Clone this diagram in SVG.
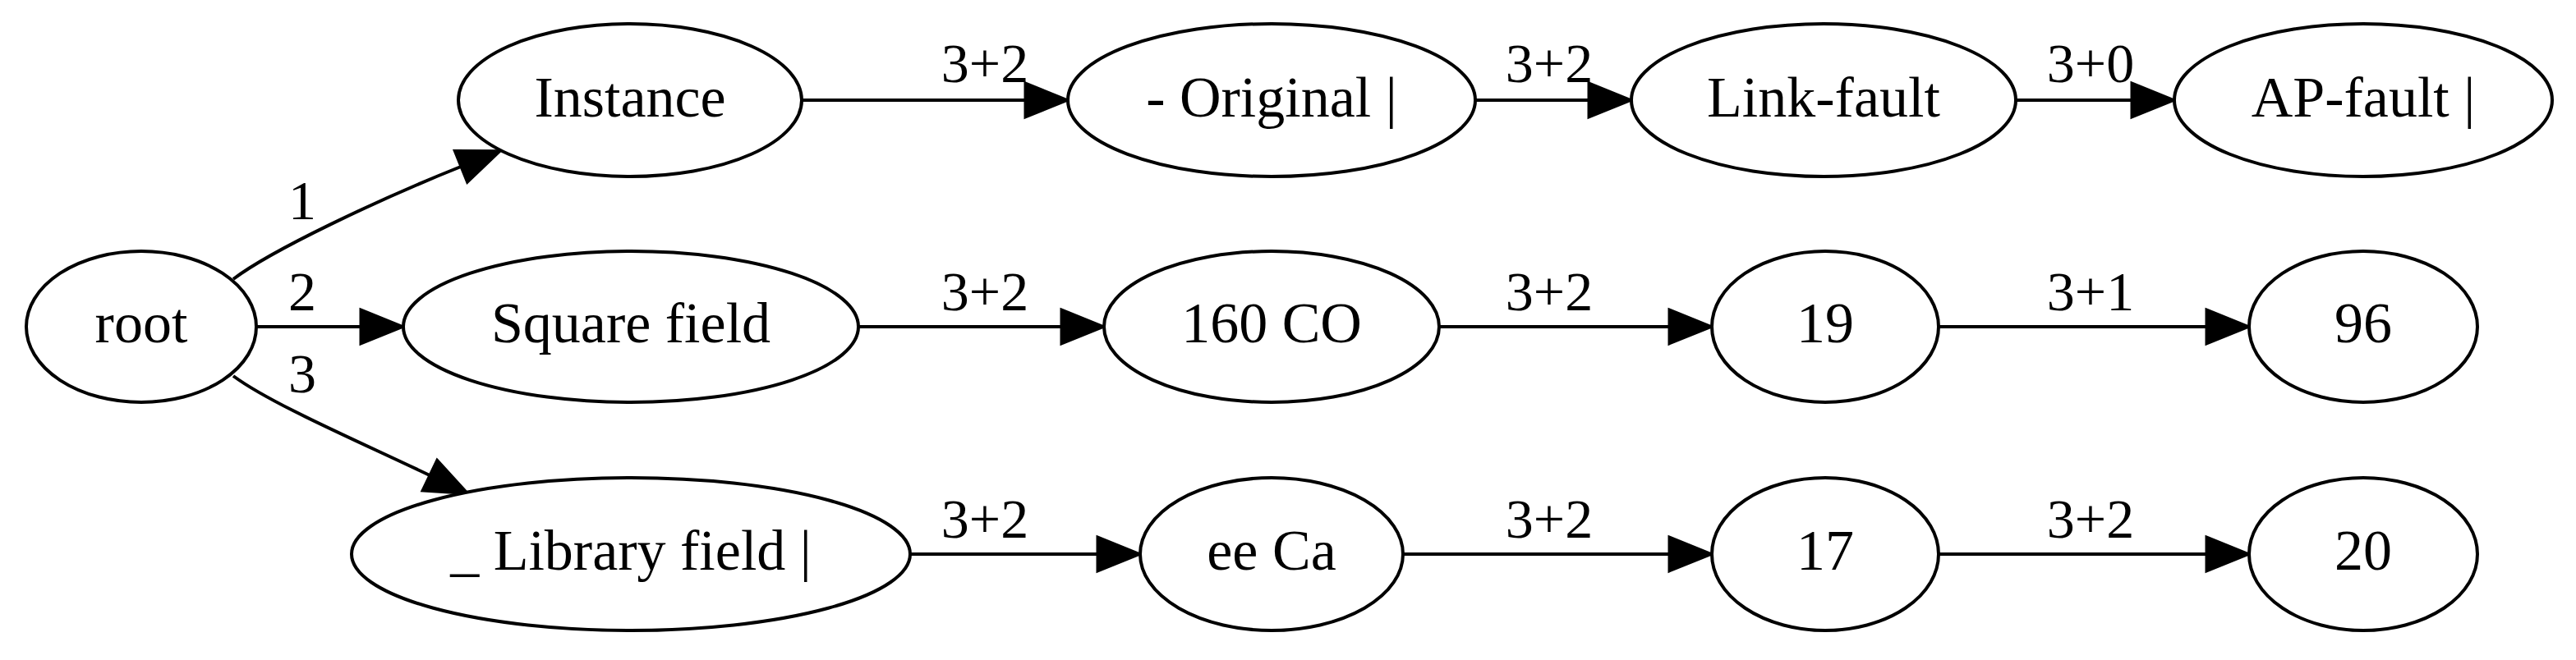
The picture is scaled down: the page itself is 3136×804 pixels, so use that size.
<svg xmlns="http://www.w3.org/2000/svg" width="3136" height="804" viewBox="0 0 3136 804">
<defs>
<marker id="arrow" markerUnits="userSpaceOnUse" markerWidth="60" markerHeight="50" viewBox="0 -25 60 50" refX="0" refY="0" orient="auto" overflow="visible">
<polygon points="0,-21 52,0 0,21" fill="#000" stroke="#000" stroke-width="3"/>
</marker>
</defs>
<style>
.node ellipse{fill:#fff;stroke:#000;stroke-width:4}
.node text{font-family:"Liberation Serif","Times New Roman",serif;font-size:70px;text-anchor:middle;fill:#000}
.edges path{fill:none;stroke:#000;stroke-width:4;marker-end:url(#arrow)}
.edges text{font-family:"Liberation Serif","Times New Roman",serif;font-size:68px;text-anchor:middle;fill:#000}
</style>
<rect width="3136" height="804" fill="#fff"/>
<g id="edges" class="edges">
<path d="M284,340 C330,305 461,243 561,203"/>
<text x="368" y="267">1</text>
<path d="M312,398 L439,398"/>
<text x="368" y="378">2</text>
<path d="M284,458 C330,492 433,536 523,579"/>
<text x="368" y="478">3</text>
<path d="M976,122 L1248,122"/>
<text x="1199" y="100">3+2</text>
<path d="M1796,122 L1934,122"/>
<text x="1886" y="100">3+2</text>
<path d="M2454,122 L2595,122"/>
<text x="2545" y="100">3+0</text>
<path d="M1045,398 L1292,398"/>
<text x="1199" y="378">3+2</text>
<path d="M1752,398 L2032,398"/>
<text x="1886" y="378">3+2</text>
<path d="M2360,398 L2686,398"/>
<text x="2545" y="378">3+1</text>
<path d="M1108,675 L1336,675"/>
<text x="1199" y="655">3+2</text>
<path d="M1708,675 L2032,675"/>
<text x="1886" y="655">3+2</text>
<path d="M2360,675 L2686,675"/>
<text x="2545" y="655">3+2</text>
</g>
<g id="root" class="node"><ellipse cx="172" cy="398" rx="140" ry="92"/><text x="172" y="417">root</text></g>
<g id="instance" class="node"><ellipse cx="767" cy="122" rx="209" ry="93"/><text x="767" y="142">Instance</text></g>
<g id="square_field" class="node"><ellipse cx="768" cy="398" rx="277" ry="92"/><text x="768" y="417">Square field</text></g>
<g id="library_field" class="node"><ellipse cx="768" cy="675" rx="340" ry="93"/><text x="768" y="694">_ Library field |</text></g>
<g id="original" class="node"><ellipse cx="1548" cy="122" rx="248" ry="93"/><text x="1548" y="142">- Original |</text></g>
<g id="n160co" class="node"><ellipse cx="1548" cy="398" rx="204" ry="92"/><text x="1548" y="417">160 CO</text></g>
<g id="eeca" class="node"><ellipse cx="1548" cy="675" rx="160" ry="93"/><text x="1548" y="694">ee Ca</text></g>
<g id="link_fault" class="node"><ellipse cx="2220" cy="122" rx="234" ry="93"/><text x="2220" y="142">Link-fault</text></g>
<g id="n19" class="node"><ellipse cx="2222" cy="398" rx="138" ry="92"/><text x="2222" y="417">19</text></g>
<g id="n17" class="node"><ellipse cx="2222" cy="675" rx="138" ry="93"/><text x="2222" y="694">17</text></g>
<g id="ap_fault" class="node"><ellipse cx="2877" cy="122" rx="230" ry="93"/><text x="2877" y="142">AP-fault |</text></g>
<g id="n96" class="node"><ellipse cx="2877" cy="398" rx="139" ry="92"/><text x="2877" y="417">96</text></g>
<g id="n20" class="node"><ellipse cx="2877" cy="675" rx="139" ry="93"/><text x="2877" y="694">20</text></g>
</svg>
